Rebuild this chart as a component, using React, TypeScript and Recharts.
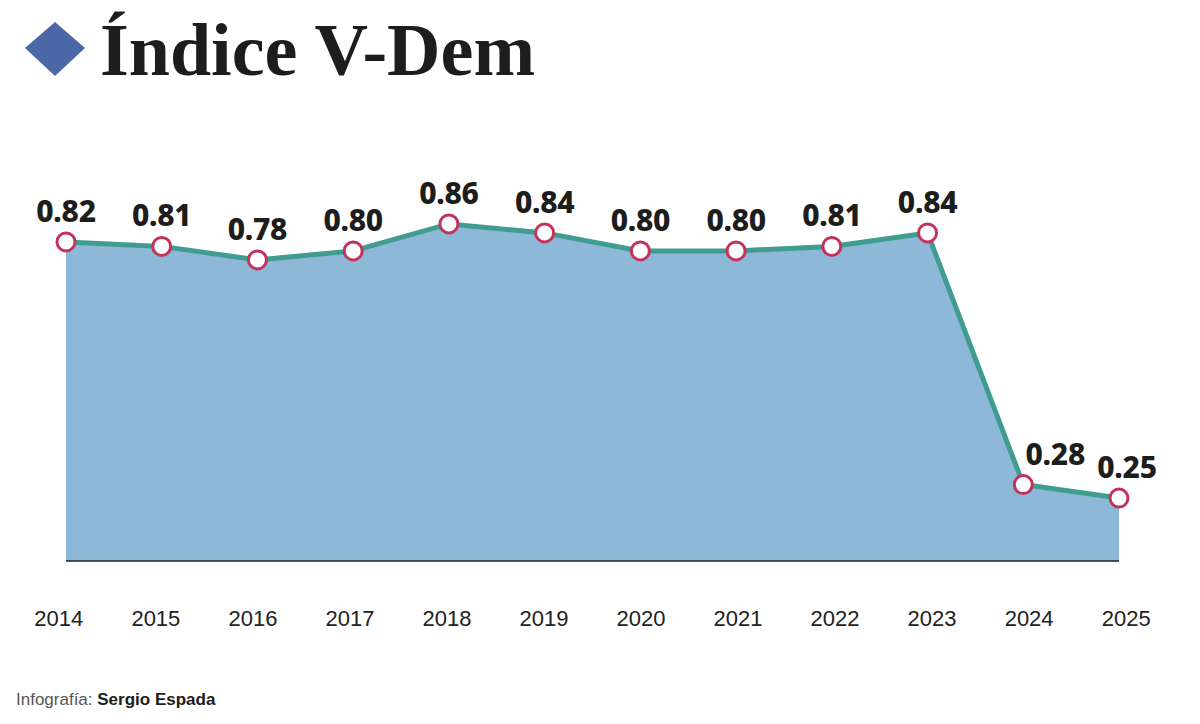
import React from 'react';
import { AreaChart, Area, XAxis, YAxis } from 'recharts';

const years = ['2014', '2015', '2016', '2017', '2018', '2019', '2020', '2021', '2022', '2023', '2024', '2025'];
const vdem = [0.82, 0.81, 0.78, 0.8, 0.86, 0.84, 0.8, 0.8, 0.81, 0.84, 0.28, 0.25];

const data = years.map((year, i) => ({ year, value: vdem[i] }));

const ValueLabel = (props: any) => {
  const { x, y, value, index } = props;
  const dx = index === 10 ? 32 : index === 11 ? 8 : 0;
  return (
    <text
      x={x + dx}
      y={y - 20}
      textAnchor="middle"
      fill="#1d1d1b"
      fontFamily="'Noto Sans', sans-serif"
      fontWeight={800}
      fontSize={30}
      letterSpacing={-0.3}
    >
      {value.toFixed(2)}
    </text>
  );
};

// year labels sit a little wider apart than the points
const YearTick = (props: any) => {
  const { x, y, payload, index } = props;
  return (
    <text
      x={x + (index - 5.5) * 1.3}
      y={y}
      dy="0.71em"
      textAnchor="middle"
      fill="#222"
      fontSize={22}
      fontFamily="'Liberation Sans', Arial, sans-serif"
    >
      {payload.value}
    </text>
  );
};

export default function App() {
  return (
    <div style={{ position: 'absolute', left: 0, top: 0, width: 1200, height: 724, background: '#fff' }}>
      <svg width={80} height={80} style={{ position: 'absolute', left: 15, top: 8 }}>
        <polygon points="40,14 70,40 40,68 10,40" fill="#4a67a6" />
      </svg>
      <div
        style={{
          position: 'absolute',
          left: 100,
          top: 0,
          fontFamily: "'Liberation Serif', serif",
          fontWeight: 700,
          fontSize: 74,
          lineHeight: '100px',
          color: '#1d1d1b',
        }}
      >
        Índice V-Dem
      </div>
      <AreaChart
        width={1200}
        height={724}
        data={data}
        margin={{ top: 161, right: 81, left: 66, bottom: 103 }}
      >
        <YAxis hide domain={[0.11, 1.0]} />
        <XAxis
          dataKey="year"
          height={60}
          axisLine={{ stroke: '#222', strokeWidth: 1.5 }}
          tickLine={false}
          tickSize={0}
          tickMargin={49}
          interval={0}
          tick={<YearTick />}
        />
        <Area
          type="linear"
          dataKey="value"
          stroke="#3f9c8f"
          strokeWidth={5}
          fill="#8eb8d8"
          fillOpacity={1}
          isAnimationActive={false}
          dot={{ r: 9, fill: '#fff', stroke: '#c2335c', strokeWidth: 3 }}
          activeDot={false}
          label={<ValueLabel />}
        />
      </AreaChart>
      <div
        style={{
          position: 'absolute',
          left: 16,
          top: 690,
          fontFamily: "'Liberation Sans', Arial, sans-serif",
          fontSize: 17,
          color: '#555',
        }}
      >
        Infografía: <b style={{ color: '#1d1d1b' }}>Sergio Espada</b>
      </div>
    </div>
  );
}
